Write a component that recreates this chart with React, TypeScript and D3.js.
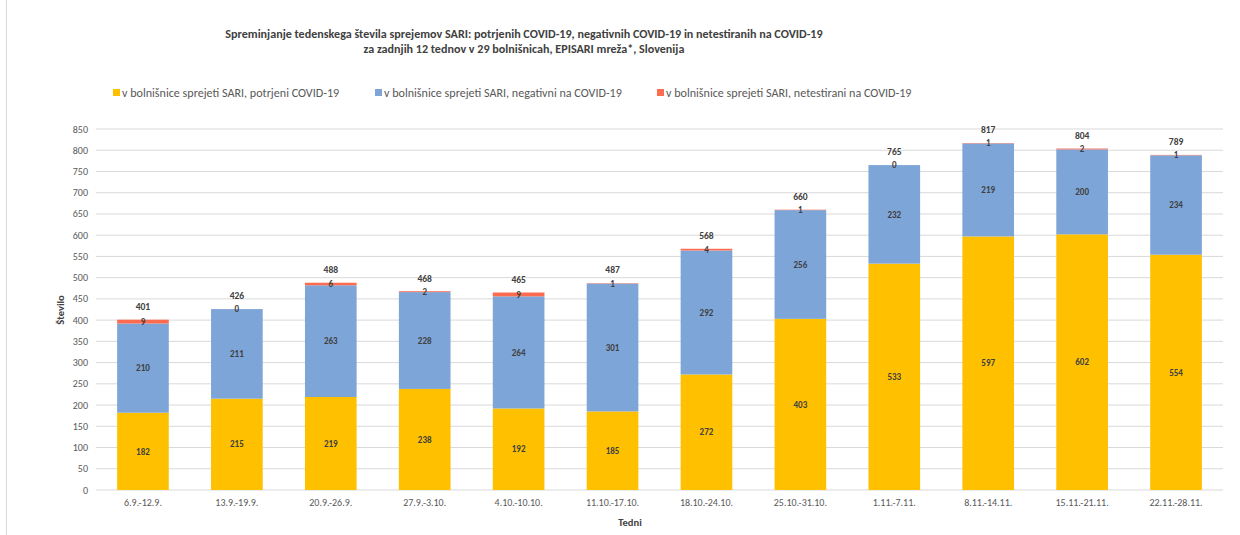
import React from 'react';
import * as d3 from 'd3';

const weeks = ['6.9.-12.9.', '13.9.-19.9.', '20.9.-26.9.', '27.9.-3.10.', '4.10.-10.10.', '11.10.-17.10.',
  '18.10.-24.10.', '25.10.-31.10.', '1.11.-7.11.', '8.11.-14.11.', '15.11.-21.11.', '22.11.-28.11.'];
const confirmed = [182, 215, 219, 238, 192, 185, 272, 403, 533, 597, 602, 554];
const negative = [210, 211, 263, 228, 264, 301, 292, 256, 232, 219, 200, 234];
const untested = [9, 0, 6, 2, 9, 1, 4, 1, 0, 1, 2, 1];
const yTicks = [0, 50, 100, 150, 200, 250, 300, 350, 400, 450, 500, 550, 600, 650, 700, 750, 800, 850];

const seriesNames = [
  'v bolnišnice sprejeti SARI, potrjeni COVID-19',
  'v bolnišnice sprejeti SARI, negativni na COVID-19',
  'v bolnišnice sprejeti SARI, netestirani na COVID-19',
];
const colors = ['#FFC000', '#7DA5D8', '#FF6B4F'];
const legendX = [113, 375, 657];

const W = 1240;
const H = 535;
const FONT = "Carlito, 'Liberation Sans Narrow', 'DejaVu Sans Condensed', sans-serif";

export default function App() {
  const x = d3.scaleBand().domain(weeks).range([96, 1223]).paddingInner(0.45).paddingOuter(0.225);
  const y = d3.scaleLinear().domain([0, 850]).range([490, 129]);

  const rows = weeks.map((w, i) => ({ week: w, c: confirmed[i], n: negative[i], u: untested[i] }));
  const stack = d3.stack<any>().keys(['c', 'n', 'u'])(rows);

  return (
    <svg width={W} height={H} style={{ position: 'absolute', left: 0, top: 0, background: '#fff' }} fontFamily={FONT}>
      <line x1={6.5} x2={6.5} y1={0} y2={H} stroke="#D9D9D9" />
      <text x={524} y={38} textAnchor="middle" fontSize={12.1} fontWeight="bold" fill="#404040">
        Spreminjanje tedenskega števila sprejemov SARI: potrjenih COVID-19, negativnih COVID-19 in netestiranih na COVID-19
      </text>
      <text x={524} y={53} textAnchor="middle" fontSize={12.1} fontWeight="bold" fill="#404040">
        za zadnjih 12 tednov v 29 bolnišnicah, EPISARI mreža*, Slovenija
      </text>

      {seriesNames.map((s, i) => (
        <g key={s} transform={`translate(${legendX[i]},93)`}>
          <rect x={0} y={-4} width={7} height={7} fill={colors[i]} />
          <text x={9} y={4} fontSize={12.1} fill="#595959">{s}</text>
        </g>
      ))}

      {yTicks.map(t => (
        <g key={t}>
          <line x1={96} x2={1223} y1={y(t)} y2={y(t)} stroke="#D9D9D9" strokeWidth={1} />
          <text x={88} y={y(t)} dy="0.35em" textAnchor="end" fontSize={10} fill="#595959">{t}</text>
        </g>
      ))}

      {stack.map((layer, li) => (
        <g key={li}>
          {layer.map((d, i) => (
            <rect key={i} x={x(weeks[i])} y={y(d[1])} width={x.bandwidth()} height={y(d[0]) - y(d[1])} fill={colors[li]} />
          ))}
        </g>
      ))}

      {stack.map((layer, li) => (
        <g key={'l' + li}>
          {layer.map((d, i) => (
            <text key={i} x={(x(weeks[i]) as number) + x.bandwidth() / 2} y={y((d[0] + d[1]) / 2)} dy="0.35em"
              textAnchor="middle" fontSize={9} fontWeight="bold" fill="#404040">
              {d[1] - d[0]}
            </text>
          ))}
        </g>
      ))}

      {rows.map((r, i) => (
        <text key={'t' + i} x={(x(r.week) as number) + x.bandwidth() / 2} y={y(r.c + r.n + r.u) - 13} dy="0.35em"
          textAnchor="middle" fontSize={9.5} fontWeight="bold" fill="#404040">
          {r.c + r.n + r.u}
        </text>
      ))}

      {weeks.map(w => (
        <text key={w} x={(x(w) as number) + x.bandwidth() / 2} y={506} textAnchor="middle" fontSize={10} fill="#595959">{w}</text>
      ))}

      <text x={630} y={526} textAnchor="middle" fontSize={10.5} fontWeight="bold" fill="#404040">Tedni</text>
      <text transform="translate(64,310) rotate(-90)" textAnchor="middle" fontSize={10.5} fontWeight="bold" fill="#404040">Število</text>
    </svg>
  );
}
